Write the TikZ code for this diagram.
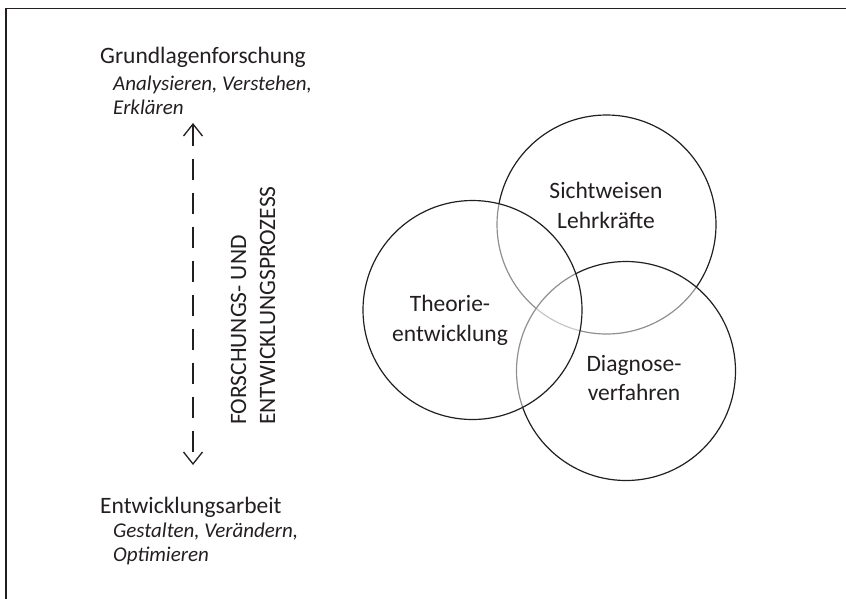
\documentclass[tikz,border=0pt]{standalone}
\usepackage{fontspec}
\setmainfont{Carlito}
\usetikzlibrary{arrows.meta}
\definecolor{ink}{HTML}{231F20}
\tikzset{vtip/.tip={Straight Barb[length=12pt, width=19pt, line width=1.3pt]}}
\begin{document}
\begin{tikzpicture}[x=1pt,y=-1pt,
  txt/.style={text=ink, inner sep=0pt, anchor=base, font=\fontsize{23.5}{29}\selectfont},
  lefttxt/.style={txt, anchor=base west},
  sub/.style={lefttxt, font=\fontsize{21}{25}\selectfont\itshape},
  ring/.style={circle, draw=ink, line width=1.2pt, fill=white, fill opacity=0.5,
    minimum size=219pt, inner sep=0pt},
  axis/.style={draw=ink, line width=1.3pt, dash pattern=on 21pt off 13pt, vtip-vtip}
]
\useasboundingbox (0,0) rectangle (846,598);

% frame (only its top and left edges lie inside the page)
\draw[ink, line width=1.2pt] (6,610) |- (860,8.5);

% the three overlapping fields
\node[ring] (sicht) at (606.5,224.5) {};
\node[ring] (diag)  at (626,371) {};
\node[ring] (theo)  at (472.5,310) {};

\node[txt] (sicht1) at (606,198) {Sichtweisen};
\node[txt] (sicht2) at (606,228) {Lehrkräfte};
\node[txt] (theo1)  at (450,311.5) {Theorie-};
\node[txt] (theo2)  at (450,341) {entwicklung};
\node[txt] (diag1)  at (634,371) {Diagnose-};
\node[txt] (diag2)  at (634,400) {verfahren};

% poles of the process
\node[lefttxt] (gf)  at (100,63) {Grundlagenforschung};
\node[sub]     (gf1) at (113,90) {Analysieren, Verstehen,};
\node[sub]     (gf2) at (113,114) {Erklären};
\node[lefttxt] (ea)  at (100,513) {Entwicklungsarbeit};
\node[sub]     (ea1) at (113,537) {Gestalten, Verändern,};
\node[sub]     (ea2) at (113,561) {Optimieren};

% process axis
\coordinate (up)   at (193,123);
\coordinate (down) at (193,465);
\draw[axis] (up) -- (down);

\node[lefttxt, rotate=90] (p1) at (246,425) {FORSCHUNGS- UND};
\node[lefttxt, rotate=90] (p2) at (275,425) {ENTWICKLUNGSPROZESS};
\end{tikzpicture}
\end{document}
